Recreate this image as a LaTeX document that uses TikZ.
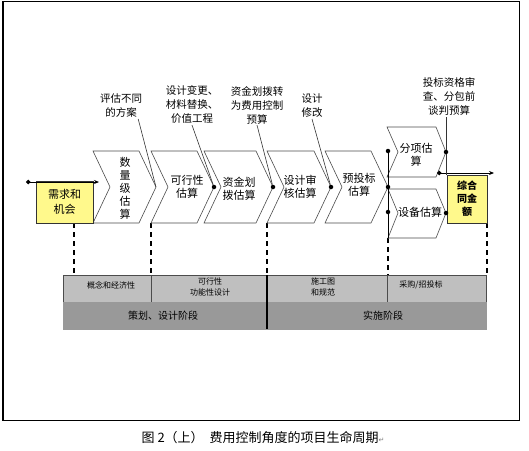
\documentclass[tikz,border=0pt]{standalone}
\usepackage{fontspec}
\setmainfont{Noto Sans CJK SC}
\newfontfamily\symfont{DejaVu Sans}
\usetikzlibrary{arrows.meta, positioning, calc}
\tikzset{
  chev/.style={draw=black!70, fill=white, line width=0.6pt},
  chevtxt/.style={font=\fontsize{11}{13}\selectfont, align=center, inner sep=0pt},
  lbl/.style={font=\fontsize{10.5}{14}\selectfont, align=center, inner sep=1pt},
  ybox/.style={rectangle, draw=black!80, fill=yellow!45, line width=0.8pt,
    align=center, inner sep=0pt, font=\fontsize{11}{15}\selectfont},
  tipdot/.style={circle, fill=black, inner sep=0pt, minimum size=4.5pt},
  lead/.style={line width=0.6pt, draw=black!80},
  vdash/.style={dash pattern=on 5pt off 4pt, line width=1.4pt},
  band/.style={draw=black!70, line width=0.6pt},
  bandtxt/.style={font=\fontsize{8}{11}\selectfont, align=center, inner sep=0pt},
  phasetxt/.style={font=\fontsize{10}{12}\selectfont, inner sep=0pt},
  milestone/.style={{Circle[length=4.5pt]}-{Stealth[length=5pt,width=4pt]}, line width=1pt}
}

\begin{document}
\begin{tikzpicture}[x=1pt, y=-1pt]
  \useasboundingbox (0,0) rectangle (529,450);

  % Outer frame
  \draw[line width=1.5pt] (3,1.5) rectangle (519.5,420.5);

  % Phase bands
  \draw[band, fill=black!25] (63,275) rectangle (486,302);
  \draw[fill=black!40, draw=black!40] (63,302) rectangle (486,329);
  \foreach \x in {151,387}{
    \draw[band] (\x,275) -- (\x,302);
  }
  \draw[line width=1.2pt] (267,275) -- (267,329);
  \node[bandtxt] (ph1a) at (111,285) {概念和经济性};
  \node[bandtxt] (ph1b) at (210,287) {可行性\\功能性设计};
  \node[bandtxt] (ph2a) at (323,287) {施工图\\和规范};
  \node[bandtxt] (ph2b) at (421,285) {采购/招投标};
  \node[phasetxt] (ph1) at (163,316) {策划、设计阶段};
  \node[phasetxt] (ph2) at (383,316) {实施阶段};

  % Drop lines to the bands
  \foreach \x/\y in {74/223,151/223,267/223,388/238,487/223}{
    \draw[vdash] (\x,\y) -- (\x,275);
  }

  % Main chevrons
  \foreach \i/\xl/\wb in {1/93/46,2/151/46,3/204/52,4/267/47,5/325/46}{
    \draw[chev] (\xl,151) -- (\xl+\wb,151) -- (\xl+\wb+17,187)
      -- (\xl+\wb,223) -- (\xl,223) -- (\xl+17,187) -- cycle;
    \coordinate (tip\i) at (\xl+\wb+17,187);
  }
  \node[chevtxt] (ch1) at (125,188) {数\\量\\级\\估\\算};
  \node[chevtxt] (ch2) at (187,187) {可行性\\估算};
  \node[chevtxt] (ch3) at (239,189) {资金划\\拨估算};
  \node[chevtxt] (ch4) at (300,187) {设计审\\核估算};
  \node[chevtxt] (ch5) at (359,185) {预投标\\估算};

  % Branch chevrons
  \draw[chev] (387,127) -- (436,127) -- (446,152) -- (436,177)
    -- (387,177) -- (398,152) -- cycle;
  \draw[chev] (388,189) -- (436,189) -- (446,213) -- (436,238)
    -- (388,238) -- (398,213) -- cycle;
  \node[chevtxt] (chU) at (416,155) {分项估\\算};
  \node[chevtxt] (chL) at (420,212) {设备估算};
  \draw[line width=1pt] (388,151) -- (388,238);

  % Start and end boxes
  \node[ybox, minimum width=57pt, minimum height=42pt] (need) at (64.5,202) {需求和\\机会};
  \node[ybox, minimum width=40pt, minimum height=48pt,
    font=\fontsize{10}{13}\selectfont\bfseries] (total) at (467,199) {综合\\同金\\额};
  \coordinate (mA1) at (26,182);
  \coordinate (mA2) at (99,182);
  \draw[milestone] (mA1) -- (mA2);
  \coordinate (mB1) at (437,173);
  \coordinate (mB2) at (494,173);
  \draw[milestone] (mB1) -- (mB2);

  % Dots
  \node[tipdot] (d2) at (tip2) {};
  \node[tipdot] (d3) at (tip3) {};
  \node[tipdot] (d4) at (tip4) {};
  \node[tipdot] (d5) at (tip5) {};
  \node[tipdot] (dBU) at (388,151) {};
  \node[tipdot] (dBL) at (388,212) {};
  \node[tipdot] (dU) at (446,152) {};
  \node[tipdot] (dL) at (446,213) {};

  % Notes and leader lines
  \node[lbl] (nt1) at (121,106) {评估不同\\的方案};
  \node[lbl] (nt2) at (192,105) {设计变更、\\材料替换、\\价值工程};
  \node[lbl] (nt3) at (257,105) {资金划拨转\\为费用控制\\预算};
  \node[lbl] (nt4) at (312,106) {设计\\修改};
  \node[lbl] (nt5) at (449,97) {投标资格审\\查、分包前\\谈判预算};
  \draw[lead] ([xshift=-5pt]nt1.south east) -- (tip1);
  \draw[lead] (nt2.south) -- (d2);
  \draw[lead] (nt3.south) -- (d3);
  \draw[lead] (nt4.south) -- (d4);
  \draw[lead] (nt5.south -| dU) -- (dU) -- (dU |- total.north);

  % Caption
  \node[font=\fontsize{13}{15}\selectfont] (cap) at (263,438)
    {图 2（上）\ \ 费用控制角度的项目生命周期{\symfont\color{gray}\fontsize{7}{7}\selectfont ↵}};

\end{tikzpicture}
\end{document}
